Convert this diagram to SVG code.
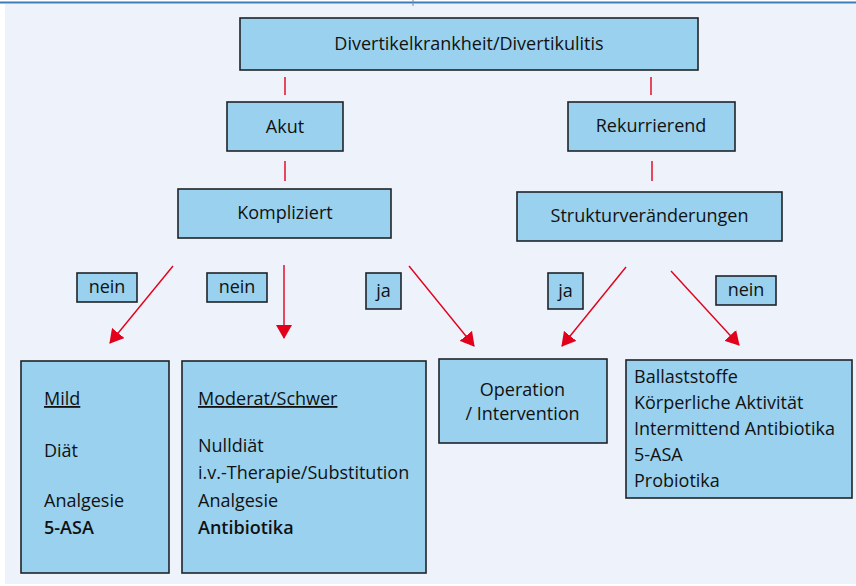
<svg xmlns="http://www.w3.org/2000/svg" width="856" height="586" viewBox="0 0 856 586">
<style>
.box{fill:#99D1EF;stroke:#1e2328;stroke-width:1.6}
.t{font-family:"Open Sans","Liberation Sans",sans-serif;font-size:18px;fill:#111}
.c{text-anchor:middle}
.b{font-weight:600}
.u{text-decoration:underline}
.tick{stroke:#E2001A;stroke-width:1.4}
.arr{stroke:#E2001A;stroke-width:1.4;fill:none;marker-end:url(#ah)}
</style>
<defs>
<marker id="ah" markerUnits="userSpaceOnUse" markerWidth="14" markerHeight="16" refX="13" refY="8" orient="auto">
<path d="M0,0 L14,8 L0,16 z" fill="#E2001A"/>
</marker>
</defs>
<rect x="0" y="0" width="856" height="586" fill="#ffffff"/>
<rect x="5" y="4" width="851" height="580" fill="#EEF2FA"/>
<line x1="0" y1="2.5" x2="856" y2="2.5" stroke="#3C7BB5" stroke-width="1.8"/>
<line x1="413" y1="0" x2="413" y2="6" stroke="#6f8fb0" stroke-width="1"/>

<g id="connectors">
<line class="tick" x1="285" y1="77" x2="285" y2="95"/>
<line class="tick" x1="651" y1="77" x2="651" y2="95"/>
<line class="tick" x1="285" y1="161" x2="285" y2="181"/>
<line class="tick" x1="652" y1="161" x2="652" y2="181"/>
<line class="arr" x1="173" y1="266" x2="110" y2="343"/>
<line class="arr" x1="284" y1="265" x2="284" y2="338"/>
<line class="arr" x1="409" y1="266" x2="474" y2="346"/>
<line class="arr" x1="626" y1="267" x2="562" y2="346"/>
<line class="arr" x1="671" y1="271" x2="739" y2="345"/>
</g>

<g id="n-top"><rect class="box" x="240" y="18" width="458" height="52"/><text class="t c" x="469" y="50">Divertikelkrankheit/Divertikulitis</text></g>
<g id="n-akut"><rect class="box" x="227" y="102" width="116" height="49"/><text class="t c" x="285" y="133">Akut</text></g>
<g id="n-rek"><rect class="box" x="568" y="102" width="167" height="49"/><text class="t c" x="651" y="132">Rekurrierend</text></g>
<g id="n-kompl"><rect class="box" x="178" y="189" width="213" height="49"/><text class="t c" x="285" y="219">Kompliziert</text></g>
<g id="n-struk"><rect class="box" x="517" y="192" width="265" height="49"/><text class="t c" x="649.5" y="222">Strukturveränderungen</text></g>

<g id="l-nein1"><rect class="box" x="77" y="273" width="60" height="29"/><text class="t c" x="107" y="293">nein</text></g>
<g id="l-nein2"><rect class="box" x="207" y="273" width="60" height="29"/><text class="t c" x="237" y="293">nein</text></g>
<g id="l-ja1"><rect class="box" x="366" y="273" width="35" height="36"/><text class="t c" x="383.5" y="297">ja</text></g>
<g id="l-ja2"><rect class="box" x="548" y="273" width="35" height="36"/><text class="t c" x="565.5" y="297">ja</text></g>
<g id="l-nein3"><rect class="box" x="716" y="276" width="60" height="29"/><text class="t c" x="746" y="296">nein</text></g>

<g id="n-mild"><rect class="box" x="21" y="361" width="148" height="212"/>
<text class="t u" x="44" y="405">Mild</text>
<text class="t" x="44" y="457">Diät</text>
<text class="t" x="44" y="507">Analgesie</text>
<text class="t b" x="44" y="534">5-ASA</text>
</g>
<g id="n-moderat"><rect class="box" x="182" y="361" width="244" height="212"/>
<text class="t u" x="198" y="405">Moderat/Schwer</text>
<text class="t" x="198" y="452">Nulldiät</text>
<text class="t" x="198" y="479">i.v.-Therapie/Substitution</text>
<text class="t" x="198" y="507">Analgesie</text>
<text class="t b" x="198" y="534">Antibiotika</text>
</g>
<g id="n-op"><rect class="box" x="439" y="359" width="168" height="84"/>
<text class="t c" x="522.5" y="396">Operation</text>
<text class="t c" x="522.5" y="420">/ Intervention</text>
</g>
<g id="n-rec"><rect class="box" x="626" y="360" width="226" height="138"/>
<text class="t" x="634" y="383">Ballaststoffe</text>
<text class="t" x="634" y="409">Körperliche Aktivität</text>
<text class="t" x="634" y="435">Intermittend Antibiotika</text>
<text class="t" x="634" y="461">5-ASA</text>
<text class="t" x="634" y="487">Probiotika</text>
</g>
</svg>
